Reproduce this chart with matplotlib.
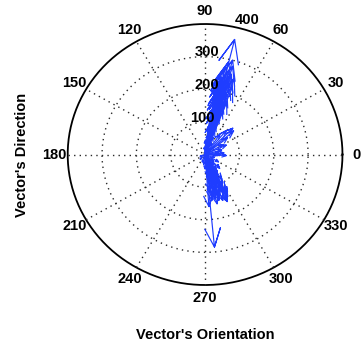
import numpy as np
import matplotlib
matplotlib.use("Agg")
import matplotlib.pyplot as plt

# Compass vectors: direction (degrees) and length
up_angles = [76.3, 74.5, 76.5, 73.5, 77.5, 75, 78.5, 72.5, 76, 79.5, 74, 77, 71.5, 80,
             75.5, 78, 73, 76.5, 81, 74.5, 79, 72, 77.5, 75, 80.5, 73.5, 78, 76, 82, 74,
             79.5, 71, 77, 84, 69, 75.5, 81, 66, 78, 88, 62, 72, 85, 95, 58,
             70, 69, 71, 68.5, 70.5, 73, 79, 81.5, 83, 74.5, 76, 78.5, 72, 80]
up_lengths = [363, 300, 292, 282, 276, 268, 262, 255, 250, 244, 238, 232, 226, 220,
              214, 206, 200, 194, 188, 180, 174, 168, 160, 152, 146, 140, 132, 124, 118, 110,
              102, 96, 90, 84, 78, 72, 64, 58, 50, 44, 40, 34, 28, 22, 20,
              248, 222, 196, 172, 150, 258, 226, 170, 136, 186, 210, 240, 128, 198]

side_angles = [45, 41, 38, 25, 16, 50, 30, 55, 10, 5, -3, 0]
side_lengths = [114, 110, 83, 68, 50, 95, 60, 75, 40, 55, 62, 45]

down_angles = [275.5, 294, 290, 286, 282, 296, 279, 288, 284, 292, 277, 298, 281,
               289, 286, 294, 279, 283, 300, 291, 276, 287, 305, 280, 295, 270, 310, 284,
               320, 262, 340, 250, 225, 200, 355, 330, 315, 302, 298,
               293, 287, 281, 297, 285, 290, 278, 295, 283, 274]
down_lengths = [285, 158, 150, 146, 140, 135, 132, 128, 120, 116, 112, 108, 104,
                100, 92, 88, 84, 78, 74, 70, 66, 60, 56, 52, 48, 44, 40, 36,
                32, 30, 28, 24, 20, 15, 35, 45, 60, 90, 125,
                152, 138, 124, 145, 110, 96, 142, 118, 155, 160]

angles = np.deg2rad(np.array(up_angles + side_angles + down_angles))
lengths = np.array(up_lengths + side_lengths + down_lengths, dtype=float)

ring_values = [100, 200, 300, 400]
spoke_angles = list(range(0, 360, 30))
rmax = 400

fig = plt.figure(figsize=(3.61, 3.50), dpi=100)
ax = fig.add_axes([0.1875, 0.1857, 0.7612, 0.7457])
ax.set_xlim(-rmax, rmax)
ax.set_ylim(-rmax, rmax)
ax.axis("off")

font = dict(family=["Liberation Sans", "DejaVu Sans"], weight="bold", size=10.5)
grid_kw = dict(color="#2a2a2a", lw=1.0, linestyle=(0, (1, 3)), clip_on=False)

t = np.linspace(0, 2 * np.pi, 400)
# dotted range rings, solid outer boundary
for r in ring_values[:-1]:
    ax.plot(r * np.cos(t), r * np.sin(t), **grid_kw)
ax.plot(rmax * np.cos(t), rmax * np.sin(t), color="black", lw=1.3, clip_on=False)

# dotted spokes across the full diameter
for a in spoke_angles[:6]:
    c, s = np.cos(np.deg2rad(a)), np.sin(np.deg2rad(a))
    ax.plot([-rmax * c, rmax * c], [-rmax * s, rmax * s], **grid_kw)

# spoke labels
for a in spoke_angles:
    c, s = np.cos(np.deg2rad(a)), np.sin(np.deg2rad(a))
    ax.text(1.1 * rmax * c, 1.1 * rmax * s, str(a), ha="center", va="center",
            clip_on=False, **font)

# compass arrows
shape = np.array([0, 1, 0.8, 1, 0.8]) + 1j * np.array([0, 0, 0.08, 0, -0.08])
for th, L in zip(angles, lengths):
    z = L * np.exp(1j * th)
    pts = shape * z
    ax.plot(pts.real, pts.imag, color="#1f3dff", lw=0.85, clip_on=False, zorder=3)

# ring labels
ring_offsets = [(-7, 112), (4, 213), (7, 314), (121, 413)]
for r, (x, y) in zip(ring_values, ring_offsets):
    ax.text(x, y, str(r), ha="center", va="center", zorder=4, clip_on=False, **font)

fig.text(0.061, 0.557, "Vector's Direction", rotation=90, ha="center", va="center", **font)
fig.text(0.568, 0.043, "Vector's Orientation", ha="center", va="center", **font)

fig.savefig("out.png", dpi=100)
